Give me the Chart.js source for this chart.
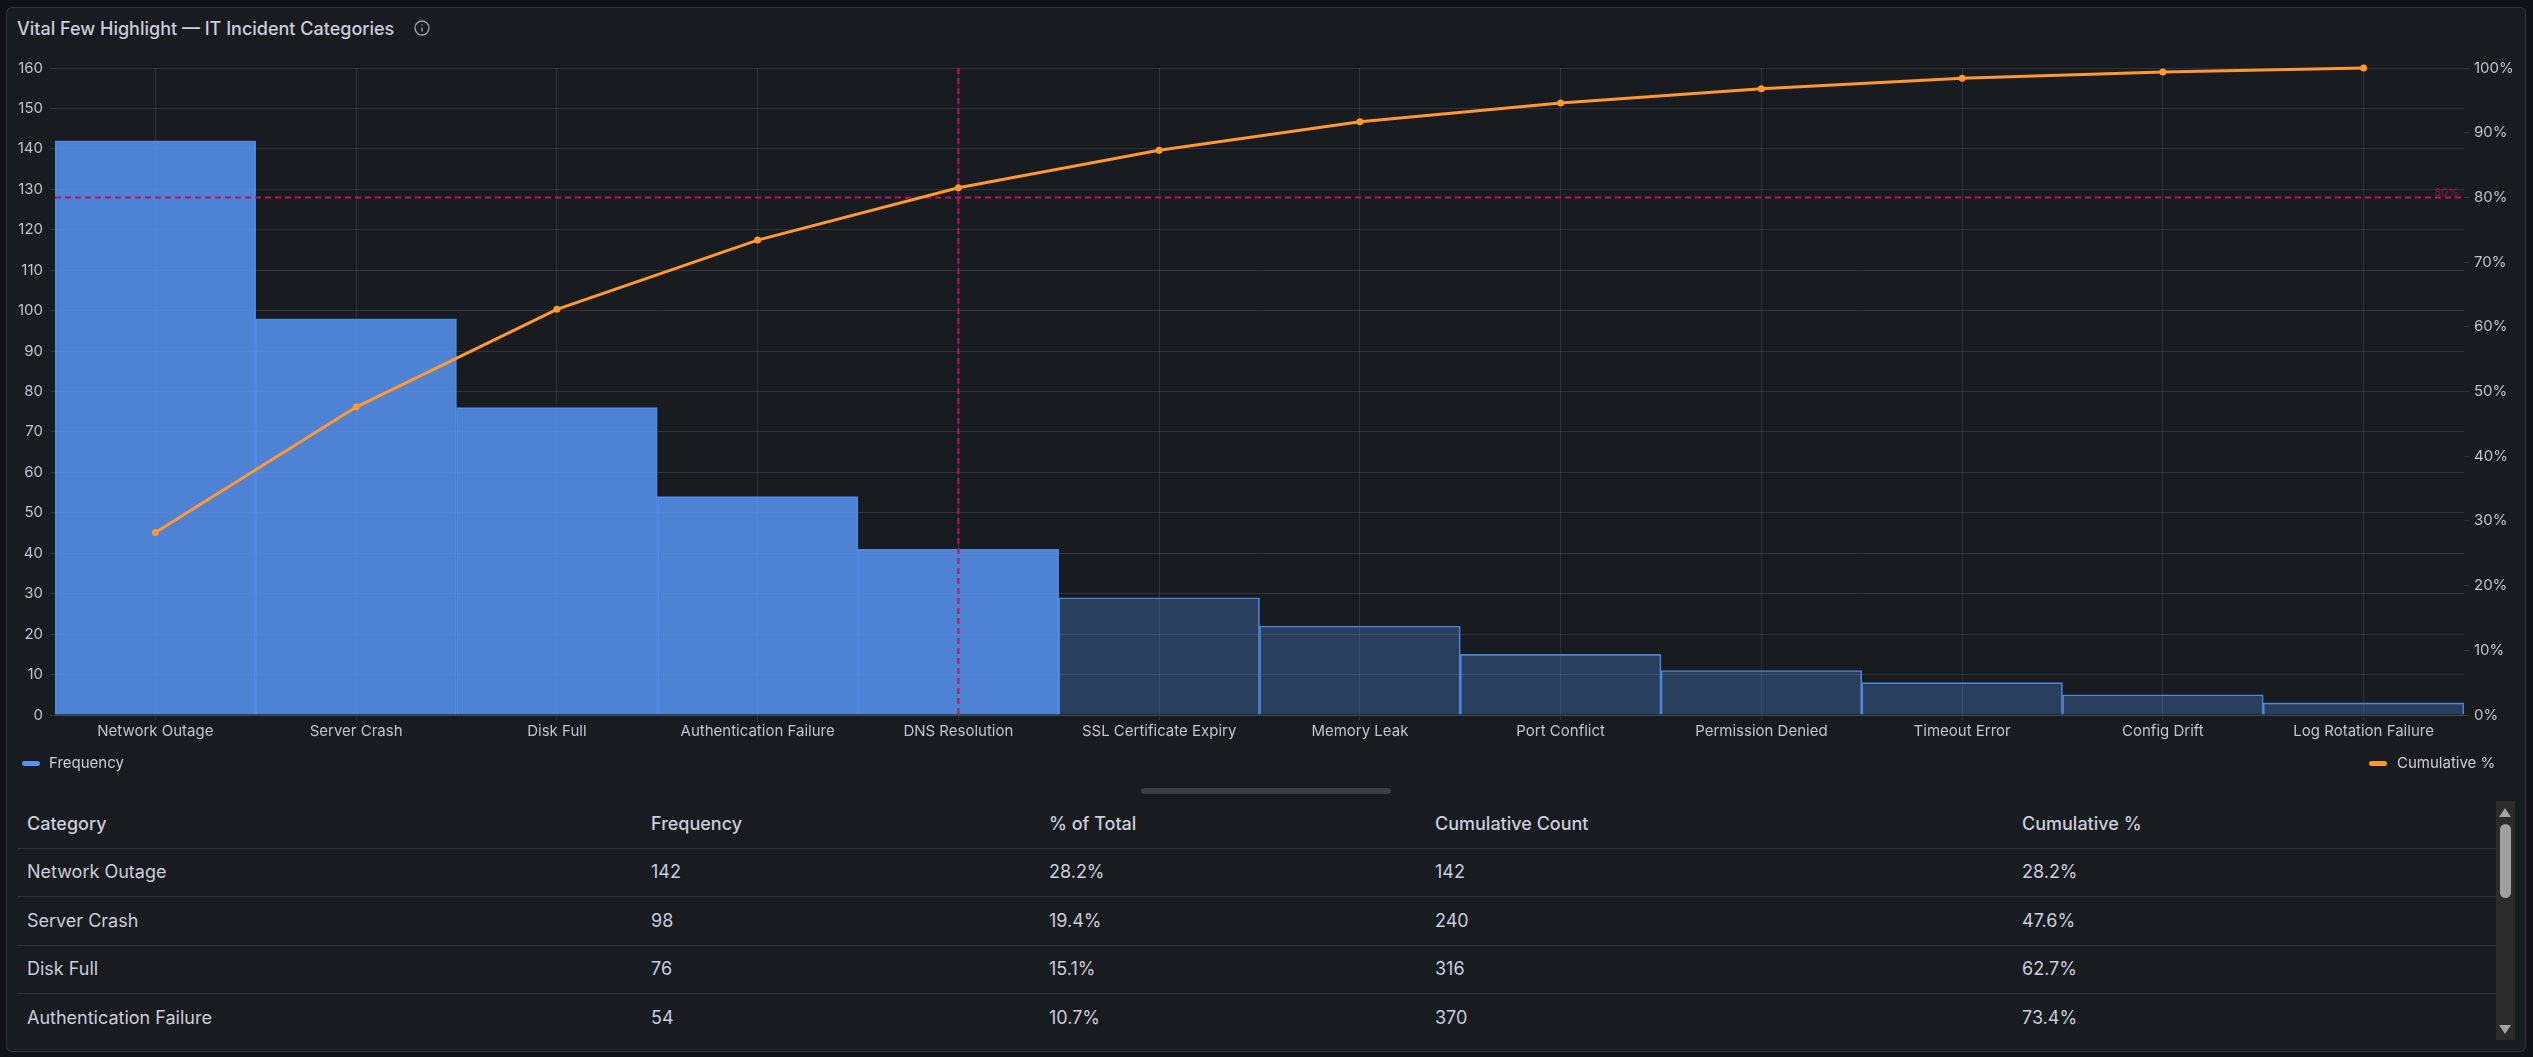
<!DOCTYPE html>
<html>
<head>
<meta charset="utf-8">
<title>Vital Few Highlight</title>
<script src="https://cdn.jsdelivr.net/npm/chart.js@4"></script>
<style>
  html, body { margin: 0; padding: 0; width: 2533px; height: 1057px; overflow: hidden; background: #111217; font-family: Inter, sans-serif; color: #ccccdc; }
  .panel { position: absolute; left: 6px; top: 7px; width: 2520px; height: 1045px; box-sizing: border-box; background: #181b1f; border: 1px solid rgba(204,204,220,0.14); border-radius: 6px; }
  .title { position: absolute; left: 17px; top: 17px; font-size: 18px; line-height: 24px; font-weight: 500; color: #ccccdc; white-space: nowrap; }
  .info { position: absolute; left: 414px; top: 20px; width: 16px; height: 16px; }
  #wrap { position: absolute; left: 0; top: 0; width: 2533px; height: 790px; }
  .legend { position: absolute; top: 754px; height: 18px; font-size: 15px; line-height: 18px; color: #ccccdc; white-space: nowrap; }
  .legend i { position: absolute; top: 7px; width: 18px; height: 5px; border-radius: 2.5px; }
  .legend span { position: absolute; top: 0; }
  .handle { position: absolute; left: 1141px; top: 788px; width: 250px; height: 6px; border-radius: 3px; background: #3b3e43; }
  .tablebox { position: absolute; left: 17px; top: 801px; width: 2479px; height: 239px; overflow: hidden; }
  table { border-collapse: collapse; width: 2479px; table-layout: fixed; font-size: 18px; }
  th { font-weight: 500; text-align: left; height: 47px; padding: 0 0 1px 10px; border-bottom: 1px solid rgba(204,204,220,0.12); box-sizing: border-box; }
  td { height: 48.5px; padding: 0 0 1px 10px; border-bottom: 1px solid rgba(204,204,220,0.12); box-sizing: border-box; }
  .track { position: absolute; left: 2496px; top: 801px; width: 19px; height: 239px; background: #2b2b2b; }
  .thumb { position: absolute; left: 4px; top: 23px; width: 11px; height: 74px; border-radius: 6px; background: #9f9f9f; }
  .arrow { position: absolute; left: 3px; width: 0; height: 0; border-left: 6.5px solid transparent; border-right: 6.5px solid transparent; }
  .up { top: 7px; border-bottom: 9px solid #a3a3a3; }
  .down { bottom: 6px; border-top: 9px solid #a3a3a3; }
</style>
</head>
<body>
<div class="panel"></div>
<div class="title">Vital Few Highlight — IT Incident Categories</div>
<svg class="info" viewBox="0 0 16 16" fill="none" stroke="#a0a1b0" stroke-width="1.3">
  <circle cx="8" cy="8" r="7"></circle>
  <line x1="8" y1="7.4" x2="8" y2="11.6"></line>
  <line x1="8" y1="4.3" x2="8" y2="5.6"></line>
</svg>
<div id="wrap"><canvas id="pareto"></canvas></div>
<div class="legend" style="left:22px"><i style="left:0;background:#5794f2"></i><span style="left:27px">Frequency</span></div>
<div class="legend" style="left:2369px"><i style="left:0;background:#ff9830"></i><span style="left:28px">Cumulative %</span></div>
<div class="handle"></div>
<div class="tablebox"><table id="rows"></table></div>
<div class="track"><div class="arrow up"></div><div class="thumb"></div><div class="arrow down"></div></div>

<script>
const categories = ["Network Outage", "Server Crash", "Disk Full", "Authentication Failure", "DNS Resolution", "SSL Certificate Expiry", "Memory Leak", "Port Conflict", "Permission Denied", "Timeout Error", "Config Drift", "Log Rotation Failure"];
const frequency = [142, 98, 76, 54, 41, 29, 22, 15, 11, 8, 5, 3];
const pctOfTotal = [28.2, 19.4, 15.1, 10.7, 8.1, 5.8, 4.4, 3.0, 2.2, 1.6, 1.0, 0.6];
const cumulativeCount = [142, 240, 316, 370, 411, 440, 462, 477, 488, 496, 501, 504];
const cumulativePct = [28.2, 47.6, 62.7, 73.4, 81.5, 87.3, 91.7, 94.6, 96.8, 98.4, 99.4, 100];
const columns = ["Category", "Frequency", "% of Total", "Cumulative Count", "Cumulative %"];
const columnWidths = [624, 398, 386, 587, 484];
const thresholdPct = 80;
const vitalCutoff = "DNS Resolution";

const tickColor = "#c2c3d0";
const gridColor = "rgba(204,216,230,0.13)";
const markerRed = "#b5175a";
const vitalCount = categories.indexOf(vitalCutoff) + 1;

// the table under the chart
let html = "<colgroup>";
for (const w of columnWidths) { html += `<col style="width:${w}px">`; }
html += "</colgroup><tr>";
for (const c of columns) { html += `<th>${c}</th>`; }
html += "</tr>";
for (let i = 0; i < categories.length; i++) {
  html += `<tr><td>${categories[i]}</td><td>${frequency[i]}</td><td>${pctOfTotal[i].toFixed(1)}%</td><td>${cumulativeCount[i]}</td><td>${cumulativePct[i].toFixed(1)}%</td></tr>`;
}
document.getElementById("rows").innerHTML = html;

// dashed 80% line and cutoff line, drawn under the cumulative line
const markers = {
  id: "markers",
  beforeDatasetDraw(chart, args) {
    if (args.index !== 1) { return; }
    const { ctx, chartArea, scales } = chart;
    const y = scales.y1.getPixelForValue(thresholdPct);
    const x = scales.x.getPixelForValue(vitalCutoff);
    ctx.save();
    ctx.strokeStyle = markerRed;
    ctx.lineWidth = 2;
    ctx.setLineDash([6, 4]);
    ctx.beginPath();
    ctx.moveTo(chartArea.left, y);
    ctx.lineTo(chartArea.right, y);
    ctx.moveTo(x, chartArea.top);
    ctx.lineTo(x, chartArea.bottom);
    ctx.stroke();
    ctx.setLineDash([]);
    ctx.font = "11px Inter";
    ctx.fillStyle = "rgba(181,23,90,0.75)";
    ctx.textAlign = "right";
    ctx.textBaseline = "bottom";
    ctx.fillText(thresholdPct + "%", chartArea.right - 5, y + 1);
    ctx.restore();
  }
};

new Chart(document.getElementById("pareto"), {
  data: {
    labels: categories,
    datasets: [
      {
        type: "bar",
        label: "Frequency",
        data: frequency,
        yAxisID: "y",
        order: 2,
        barPercentage: 1,
        categoryPercentage: 1,
        borderWidth: 1,
        backgroundColor: frequency.map((v, i) => i < vitalCount ? "rgba(87,148,242,0.86)" : "rgba(87,148,242,0.3)"),
        borderColor: "rgba(87,148,242,0.85)"
      },
      {
        type: "line",
        label: "Cumulative %",
        data: cumulativePct,
        yAxisID: "y1",
        order: 1,
        clip: false,
        borderColor: "#ff9830",
        backgroundColor: "#ff9830",
        borderWidth: 3,
        pointRadius: 3.5,
        pointBorderWidth: 0,
        tension: 0
      }
    ]
  },
  options: {
    responsive: true,
    maintainAspectRatio: false,
    animation: false,
    layout: { padding: { top: 68, left: 0, right: 0, bottom: 45 } },
    plugins: { legend: { display: false }, tooltip: { enabled: false } },
    scales: {
      x: {
        offset: true,
        afterFit(s) { s.height = 30; },
        border: { color: gridColor },
        grid: { offset: false, color: gridColor, tickColor: gridColor, tickLength: 5, lineWidth: 1 },
        ticks: { color: tickColor, font: { family: "Inter", size: 15 }, padding: 2, maxRotation: 0, autoSkip: false }
      },
      y: {
        position: "left",
        min: 0,
        max: 160,
        afterFit(s) { s.width = 55; },
        border: { display: false },
        grid: { color: gridColor, tickColor: gridColor, tickLength: 5 },
        ticks: { stepSize: 10, color: tickColor, font: { family: "Inter", size: 15 }, padding: 7 }
      },
      y1: {
        position: "right",
        min: 0,
        max: 100,
        afterFit(s) { s.width = 69; },
        border: { display: false },
        grid: { drawOnChartArea: false, color: gridColor, tickColor: gridColor, tickLength: 5 },
        ticks: { stepSize: 10, color: tickColor, font: { family: "Inter", size: 15 }, padding: 5, callback: v => v + "%" }
      }
    }
  },
  plugins: [markers]
});
</script>
</body>
</html>
